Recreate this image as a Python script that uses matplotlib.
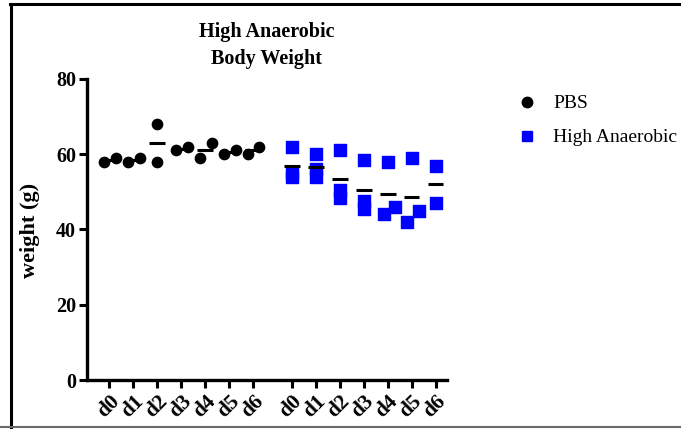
import numpy as np
import matplotlib.pyplot as plt
from matplotlib.lines import Line2D

dias = ['d0', 'd1', 'd2', 'd3', 'd4', 'd5', 'd6']

# pesos (g) de cada animal por dia
pbs = [[58, 59], [58, 59], [68, 58], [61, 62], [59, 63], [60, 61], [60, 62]]
high_anaerobic = [[62, 55, 54], [60, 56, 54], [61, 50.5, 48.5], [58.5, 47.5, 45.5],
                  [58, 44, 46], [59, 42, 45], [57, 47]]

# deslocamento horizontal dos pontos que se sobrepoem
pbs_desl = [[-0.22, 0.26], [-0.22, 0.26], [0, 0], [-0.22, 0.26], [-0.22, 0.26],
            [-0.22, 0.26], [-0.22, 0.26]]
ha_desl = [[0, 0, 0], [0, 0, 0], [0, 0, 0], [0, 0, 0], [0, -0.16, 0.3],
           [0, -0.18, 0.3], [0, 0]]

plt.rcParams['font.family'] = 'Liberation Serif'

W, H = 681, 429
fig = plt.figure(figsize=(6.81, 4.29), dpi=100)
ax = fig.add_axes([0.1278, 0.1142, 0.528, 0.7017])

x_pbs = np.arange(7)
x_ha = np.arange(7) + 7.6

for i in range(7):
    ax.scatter(x_pbs[i] + np.array(pbs_desl[i]), pbs[i], marker='o', s=55,
               color='black', zorder=3)
    ax.hlines(np.mean(pbs[i]), x_pbs[i] - 0.33, x_pbs[i] + 0.33, color='black',
              lw=2.2, zorder=2)
    ax.scatter(x_ha[i] + np.array(ha_desl[i]), high_anaerobic[i], marker='s', s=75,
               color='blue', zorder=3)
    ax.hlines(np.mean(high_anaerobic[i]), x_ha[i] - 0.33, x_ha[i] + 0.33,
              color='black', lw=2.2, zorder=4)

ax.set_xlim(-0.93, 14.06)
ax.set_ylim(0, 80)
ax.set_yticks([0, 20, 40, 60, 80])
ax.set_xticks(np.concatenate([x_pbs, x_ha]))
ax.set_xticklabels(dias + dias, rotation=45, ha='right', va='top',
                   rotation_mode='anchor', fontsize=15.5, fontweight='bold')
for t in ax.get_yticklabels():
    t.set_fontsize(14.5)
    t.set_fontweight('bold')

ax.spines['top'].set_visible(False)
ax.spines['right'].set_visible(False)
ax.spines['left'].set_linewidth(2.4)
ax.spines['bottom'].set_linewidth(2.4)
ax.tick_params(axis='both', direction='out', length=6, width=2.2, pad=2)

ax.set_title('High Anaerobic\nBody Weight', fontsize=14.5, fontweight='bold',
             linespacing=1.45, pad=11)
fig.text(0.044, 0.462, 'weight (g)', rotation=90, ha='center', va='center',
         fontsize=16, fontweight='bold')

# legenda
fig.add_artist(Line2D([527 / W], [1 - 102 / H], marker='o', color='black',
                      ls='none', markersize=7.5))
fig.add_artist(Line2D([527 / W], [1 - 136 / H], marker='s', color='blue',
                      ls='none', markersize=7))
fig.text(553 / W, 1 - 103 / H, 'PBS', fontsize=14, va='center', ha='left')
fig.text(553 / W, 1 - 137 / H, 'High Anaerobic', fontsize=14, va='center', ha='left')

# moldura da imagem
fig.add_artist(Line2D([0.015, 1], [0.991, 0.991], color='black', lw=2.2))
fig.add_artist(Line2D([0.016, 0.016], [0.003, 0.991], color='black', lw=2.2))
fig.add_artist(Line2D([0, 1], [0.004, 0.004], color='dimgray', lw=1.5))

plt.savefig('out.png', dpi=100)
